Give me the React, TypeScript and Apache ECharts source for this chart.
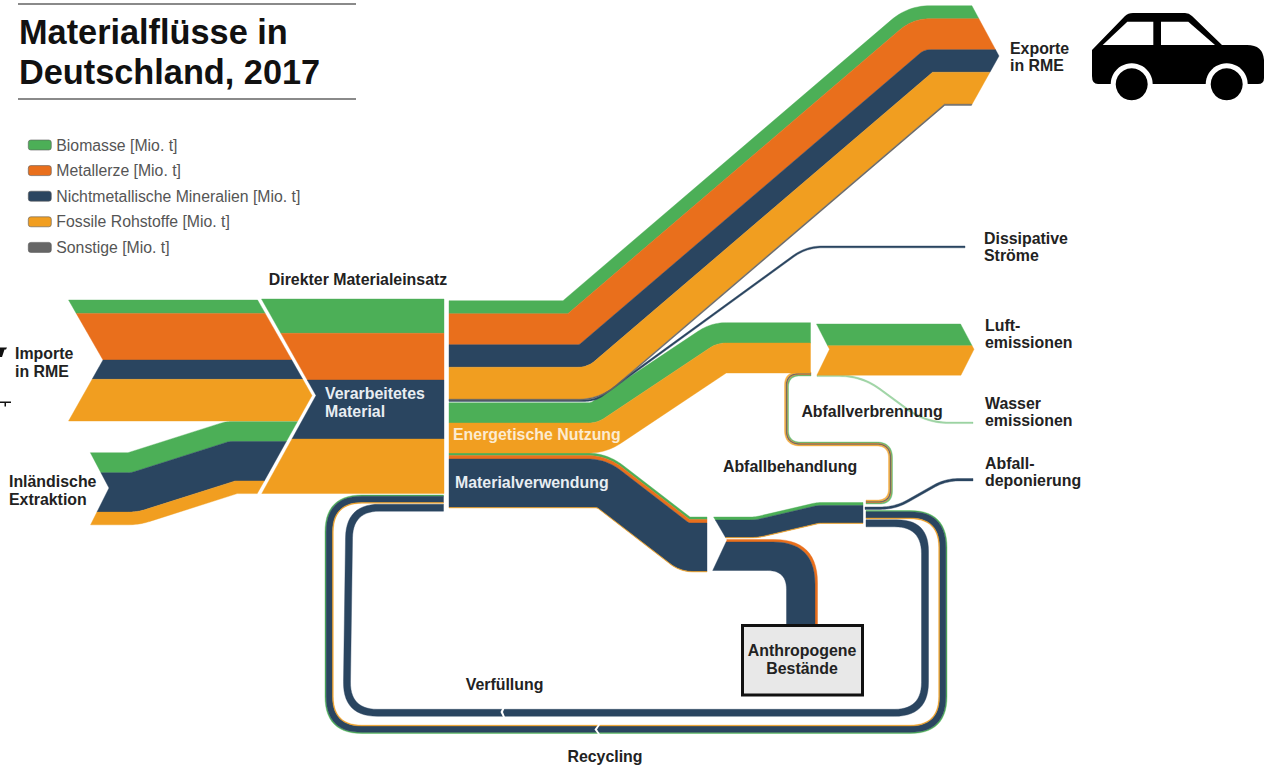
import React, { useEffect, useRef } from "react";
import * as echarts from "echarts";

// ---------- Legend ----------
const MATERIALS = [
  "Biomasse [Mio. t]",
  "Metallerze [Mio. t]",
  "Nichtmetallische Mineralien [Mio. t]",
  "Fossile Rohstoffe [Mio. t]",
  "Sonstige [Mio. t]",
];
const COLORS = ["#4CAF57", "#E96F1C", "#2A4560", "#F19E20", "#666666"];

// ---------- Flow widths, in the order of MATERIALS ----------
const importe = [13.4, 46.6, 19.3, 41.7, 0];
const inland = [20, 0, 39.4, 12.7, 0];
const materialeinsatz = [34.3, 46.7, 59, 54.5, 0];
const exporte = [13, 31, 22.5, 32, 1.2];
const dissipativ = [0, 0, 1.8, 0, 0];
const energetisch = [20.3, 0, 0, 30, 0];
const stofflich = [2.5, 3.5, 48.5, 0.5, 0];
const behandlung = [3, 0, 17.5, 0.5, 0];
const bestaende = [0, 2.5, 28.5, 0, 0];
const luft = [21.7, 0, 0, 29.5, 0];
const verbrennung = [1.3, 0.6, 0.8, 1.3, 0];
const wasser = [1.6, 0, 0, 0, 0];
const deponie = [0, 0, 2.4, 0, 0];
const recycling = [1.2, 0, 6.3, 0.8, 0];
const verfuellung = [0, 0, 7, 0, 0];

// ---------- Routes of the flows (axis units; third number is the bend radius) ----------
type Pt = number[];
const cutImportRight: Pt[] = [[257, 299], [312, 395.5], [257, 494]];
const cutDmiLeft: Pt[] = [[261.5, 299], [316, 395.5], [261.5, 494]];
const cutImportLeft: Pt[] = [[68, 299], [103, 360], [68, 422]];
const cutInlandLeft: Pt[] = [[90, 452], [109, 488], [90, 526]];
const cutExportRight: Pt[] = [[971.5, 5], [999, 56], [970.5, 107]];
const cutBranchLeft: Pt[] = [[713, 516], [727, 540], [712, 572]];
const cutLuftLeft: Pt[] = [[816, 323], [829.5, 349.3], [816.5, 376]];
const cutLuftRight: Pt[] = [[960, 323], [974, 349.3], [960.5, 376]];

const routeImporte: Pt[] = [[60, 300], [330, 300]];
const routeInland: Pt[] = [[80, 452.7], [128, 452.7, 0], [226, 421.5, 40], [320, 421.5]];
const routeEinsatz: Pt[] = [[250, 299], [444, 299]];
const routeExporte: Pt[] = [[449, 300.7], [563, 300.7, -40], [908, 5.7, 60], [1005, 5.7]];
const routeDissipativ: Pt[] = [[449, 399.6], [595, 399.6, 30], [806, 246, 50], [965, 246]];
const routeEnergie: Pt[] = [[449, 402.7], [591, 402.7, 8], [711, 322.7, 50], [810.5, 322.7]];
const routeStofflich: Pt[] = [[449, 453], [607, 453, 60], [690, 517, 0], [707, 517]];
const routeBehandlung: Pt[] = [[700, 517], [755, 517, 40], [817, 502.5, 40], [863, 502.5]];
const routeBestaende: Pt[] = [[700, 539.5], [817.5, 539.5, 50], [817.5, 626]];
const routeLuft: Pt[] = [[810, 324], [985, 324]];
const routeVerbrennung: Pt[] = [[811, 376], [788.5, 376, 12], [788.5, 442, 12], [892.5, 442, 16], [892.5, 504, 16], [866, 504]];
const routeWasser: Pt[] = [[817, 375], [862, 375, 120], [926, 422, 120], [973, 422]];
const routeDeponie: Pt[] = [[865, 507], [895, 507, 110], [945, 478.5, 110], [973, 478.5]];
const routeRecycling: Pt[] = [[866, 510.5], [947, 510.5, 37], [947, 733.5, 37], [325, 733.5, 37], [325, 495, 37], [443.5, 495]];
const routeVerfuellung: Pt[] = [[866, 519.8], [928.5, 519.8, 34], [928.5, 716.3, 34], [343, 716.3, 34], [346, 504.2, 34], [443.5, 504.2]];

type Ribbon = { route: Pt[]; values: number[]; left?: Pt[]; right?: Pt[]; squeeze?: number[]; fade?: number };
const RIBBONS: Ribbon[] = [
  { route: routeImporte, values: importe, left: cutImportLeft, right: cutImportRight },
  { route: routeInland, values: inland, left: cutInlandLeft, right: cutImportRight },
  { route: routeEinsatz, values: materialeinsatz, left: cutDmiLeft },
  { route: routeExporte, values: exporte, right: cutExportRight },
  { route: routeDissipativ, values: dissipativ },
  { route: routeEnergie, values: energetisch },
  { route: routeStofflich, values: stofflich, squeeze: [1, 0.9, 1] },
  { route: routeBehandlung, values: behandlung, left: cutBranchLeft },
  { route: routeBestaende, values: bestaende, left: cutBranchLeft },
  { route: routeLuft, values: luft, left: cutLuftLeft, right: cutLuftRight },
  { route: routeVerbrennung, values: verbrennung, fade: 0.8 },
  { route: routeWasser, values: wasser, fade: 0.5 },
  { route: routeDeponie, values: deponie },
  { route: routeRecycling, values: recycling },
  { route: routeVerfuellung, values: verfuellung },
];

// ---------- Texts ----------
const FONT = "Liberation Sans";
const TITLE_LINES = ["Materialflüsse in", "Deutschland, 2017"];
const LABELS: [string, number, number, string?, string?][] = [
  ["Direkter Materialeinsatz", 358, 279, "center"],
  ["Importe", 15, 353],
  ["in RME", 15, 371],
  ["Inländische", 9, 481],
  ["Extraktion", 9, 499],
  ["Verarbeitetes", 325, 393, "left", "#E8EDF2"],
  ["Material", 325, 411, "left", "#E8EDF2"],
  ["Energetische Nutzung", 453, 434, "left", "#FCEBD0"],
  ["Materialverwendung", 455, 482, "left", "#E8EDF2"],
  ["Abfallbehandlung", 790, 466, "center"],
  ["Abfallverbrennung", 872, 411, "center"],
  ["Dissipative", 984, 238],
  ["Ströme", 984, 255],
  ["Exporte", 1010, 48],
  ["in RME", 1010, 65],
  ["Luft-", 985, 325],
  ["emissionen", 985, 342],
  ["Wasser", 985, 403],
  ["emissionen", 985, 420],
  ["Abfall-", 985, 463],
  ["deponierung", 985, 480],
  ["Verfüllung", 504.5, 684, "center"],
  ["Recycling", 605, 756, "center"],
  ["Anthropogene", 802, 650, "center"],
  ["Bestände", 802, 668, "center"],
];

// ---------- Ribbon geometry ----------
function offsetLine(route: Pt[], d: number, squeeze?: number[]) {
  const n = route.length;
  const segs: { ax: number; ay: number; ux: number; uy: number }[] = [];
  for (let i = 0; i < n - 1; i++) {
    const dx = route[i + 1][0] - route[i][0];
    const dy = route[i + 1][1] - route[i][1];
    const len = Math.hypot(dx, dy);
    const ux = dx / len;
    const uy = dy / len;
    const dd = d * (squeeze ? squeeze[i] : 1);
    segs.push({ ax: route[i][0] - uy * dd, ay: route[i][1] + ux * dd, ux, uy });
  }
  const pts: { x: number; y: number; r: number }[] = [];
  pts.push({ x: segs[0].ax, y: segs[0].ay, r: 0 });
  for (let i = 1; i < n - 1; i++) {
    const a = segs[i - 1];
    const b = segs[i];
    const cross = a.ux * b.uy - a.uy * b.ux;
    const t = ((b.ax - a.ax) * b.uy - (b.ay - a.ay) * b.ux) / cross;
    const r0 = route[i][2] || 0;
    pts.push({
      x: a.ax + a.ux * t,
      y: a.ay + a.uy * t,
      r: Math.max(0, cross > 0 ? r0 - d : r0 + d),
    });
  }
  const s = segs[n - 2];
  const last = route[n - 1];
  pts.push({ x: last[0] - s.uy * d, y: last[1] + s.ux * d, r: 0 });
  return pts;
}

function rounded(pts: { x: number; y: number; r: number }[]) {
  const out: number[][] = [[pts[0].x, pts[0].y]];
  for (let i = 1; i < pts.length - 1; i++) {
    const p = pts[i];
    const a = pts[i - 1];
    const b = pts[i + 1];
    const l1 = Math.hypot(p.x - a.x, p.y - a.y);
    const l2 = Math.hypot(b.x - p.x, b.y - p.y);
    const u1 = [(p.x - a.x) / l1, (p.y - a.y) / l1];
    const u2 = [(b.x - p.x) / l2, (b.y - p.y) / l2];
    const turn = Math.acos(Math.max(-1, Math.min(1, u1[0] * u2[0] + u1[1] * u2[1])));
    const t = Math.min(p.r * Math.tan(turn / 2), l1 * 0.5, l2 * 0.5);
    if (t < 0.2) {
      out.push([p.x, p.y]);
      continue;
    }
    const s = [p.x - u1[0] * t, p.y - u1[1] * t];
    const e = [p.x + u2[0] * t, p.y + u2[1] * t];
    for (let k = 0; k <= 14; k++) {
      const w = k / 14;
      out.push([
        (1 - w) * (1 - w) * s[0] + 2 * w * (1 - w) * p.x + w * w * e[0],
        (1 - w) * (1 - w) * s[1] + 2 * w * (1 - w) * p.y + w * w * e[1],
      ]);
    }
  }
  const l = pts[pts.length - 1];
  out.push([l.x, l.y]);
  return out;
}

function cutX(cut: Pt[], y: number) {
  if (y <= cut[0][1]) return cut[0][0];
  for (let i = 0; i < cut.length - 1; i++) {
    if (y <= cut[i + 1][1]) {
      const w = (y - cut[i][1]) / (cut[i + 1][1] - cut[i][1]);
      return cut[i][0] + w * (cut[i + 1][0] - cut[i][0]);
    }
  }
  return cut[cut.length - 1][0];
}

function between(cut: Pt[] | undefined, y0: number, y1: number) {
  if (!cut) return [];
  const lo = Math.min(y0, y1);
  const hi = Math.max(y0, y1);
  const inside = cut.filter((p) => p[1] > lo && p[1] < hi).map((p) => [p[0], p[1]]);
  return y0 < y1 ? inside : inside.reverse();
}

function layerPolygon(r: Ribbon, material: number) {
  let d0 = 0;
  for (let i = 0; i < material; i++) d0 += r.values[i];
  const d1 = d0 + r.values[material];
  const a = rounded(offsetLine(r.route, d0, r.squeeze));
  const b = rounded(offsetLine(r.route, d1, r.squeeze));
  if (r.left) {
    a[0][0] = cutX(r.left, a[0][1]);
    b[0][0] = cutX(r.left, b[0][1]);
  }
  if (r.right) {
    a[a.length - 1][0] = cutX(r.right, a[a.length - 1][1]);
    b[b.length - 1][0] = cutX(r.right, b[b.length - 1][1]);
  }
  return [
    ...a,
    ...between(r.right, a[a.length - 1][1], b[b.length - 1][1]),
    ...b.slice().reverse(),
    ...between(r.left, b[0][1], a[0][1]),
  ];
}

// ---------- Car pictogram ----------
echarts.graphic.registerShape(
  "carBody",
  echarts.graphic.extendPath(
    "M1092 50 L1125 16 Q1128 13 1133 13 L1185 13 Q1189 13 1192 16 L1222 45 L1247 45 Q1263 45 1264 60 L1264 78 Q1264 84 1258 84 L1098 84 Q1092 84 1092 76 Z",
    {}
  )
);

export default function App() {
  const ref = useRef<HTMLDivElement>(null);
  useEffect(() => {
    document.body.style.margin = "0";
    const chart = echarts.init(ref.current!, undefined, { renderer: "svg" });
    const series = MATERIALS.map((name, m) => ({
      type: "custom",
      name,
      coordinateSystem: "cartesian2d",
      clip: false,
      silent: true,
      itemStyle: { color: COLORS[m] },
      data: RIBBONS.map((r, i) => (r.values[m] > 0 ? [i, m] : null)).filter(Boolean),
      renderItem: (_p: any, api: any) => {
        const rib = RIBBONS[api.value(0)];
        const points = layerPolygon(rib, m).map((p) => api.coord(p));
        return {
          type: "polygon",
          shape: { points },
          style: { fill: COLORS[m], stroke: COLORS[m], lineWidth: 0.4, opacity: rib.fade ?? 1 },
        };
      },
    }));

    const text = (t: string, x: number, y: number, o: any = {}) => ({
      type: "text",
      z: 100,
      x,
      y,
      style: {
        text: t,
        fontFamily: FONT,
        fontWeight: o.weight ?? "bold",
        fontSize: o.size ?? 15.9,
        fill: o.fill ?? "#222222",
        textAlign: o.align ?? "left",
        textVerticalAlign: "middle",
      },
    });

    const graphics: any[] = [
      { type: "rect", z: 100, shape: { x: 18, y: 3, width: 338, height: 2 }, style: { fill: "#8A8A8A" } },
      { type: "rect", z: 100, shape: { x: 18, y: 98, width: 338, height: 2 }, style: { fill: "#8A8A8A" } },
      {
        type: "rect",
        z: 99,
        shape: { x: 742.5, y: 625.5, width: 120, height: 69.5 },
        style: { fill: "#E8E8E8", stroke: "#111111", lineWidth: 3 },
      },
      text(TITLE_LINES[0], 19, 32, { size: 34.3, fill: "#111111" }),
      text(TITLE_LINES[1], 19, 72, { size: 34.3, fill: "#111111" }),
      ...LABELS.map(([t, x, y, align, fill]) => text(t, x, y, { align, fill })),
      { type: "polygon", z: 101, shape: { points: [[598.5, 724], [594.5, 729.5], [598.5, 735], [600.5, 735], [597, 729.5], [600.5, 724]] }, style: { fill: "#fff" } },
      { type: "polygon", z: 101, shape: { points: [[503, 707], [500.5, 712], [503, 717], [505, 717], [503, 712], [505, 707]] }, style: { fill: "#fff" } },
      { type: "polygon", z: 100, shape: { points: [[0, 347.5], [7, 347.5], [6, 349.5], [4.5, 349.5], [2, 357], [0, 357]] }, style: { fill: "#111" } },
      { type: "polygon", z: 100, shape: { points: [[0, 401.5], [11, 401.5], [11, 403], [6, 403], [6, 406.5], [4.5, 406.5], [4.5, 403], [0, 403]] }, style: { fill: "#111" } },
      { type: "carBody", z: 100, x: 0, y: 0, style: { fill: "#000" } },
      { type: "polygon", z: 101, shape: { points: [[1102.7, 45], [1127.3, 21.7], [1153.3, 21.7], [1153.3, 45]] }, style: { fill: "#fff" } },
      { type: "polygon", z: 101, shape: { points: [[1161, 21.7], [1188.3, 21.7], [1215, 45], [1161, 45]] }, style: { fill: "#fff" } },
      { type: "circle", z: 101, shape: { cx: 1131.7, cy: 84.3, r: 21 }, style: { fill: "#fff" } },
      { type: "circle", z: 102, shape: { cx: 1131.7, cy: 84.3, r: 16 }, style: { fill: "#000" } },
      { type: "circle", z: 101, shape: { cx: 1226.7, cy: 84.3, r: 21 }, style: { fill: "#fff" } },
      { type: "circle", z: 102, shape: { cx: 1226.7, cy: 84.3, r: 16 }, style: { fill: "#000" } },
    ];

    chart.setOption({
      animation: false,
      backgroundColor: "#ffffff",
      grid: { left: 0, right: 0, top: 0, bottom: 0 },
      xAxis: { type: "value", min: 0, max: 1264, show: false },
      yAxis: { type: "value", min: 0, max: 766, inverse: true, show: false },
      legend: {
        orient: "vertical",
        left: 28,
        top: 137,
        padding: 0,
        itemWidth: 23,
        itemHeight: 10,
        itemGap: 9.6,
        icon: "roundRect",
        selectedMode: false,
        itemStyle: { borderColor: "#5A5A5A", borderWidth: 0.6 },
        textStyle: { fontFamily: FONT, fontSize: 15.8, color: "#555555", lineHeight: 16 },
        data: MATERIALS,
      },
      series,
      graphic: { elements: graphics },
    });
    return () => chart.dispose();
  }, []);
  return <div ref={ref} style={{ position: "fixed", left: 0, top: 0, width: 1264, height: 766 }} />;
}
